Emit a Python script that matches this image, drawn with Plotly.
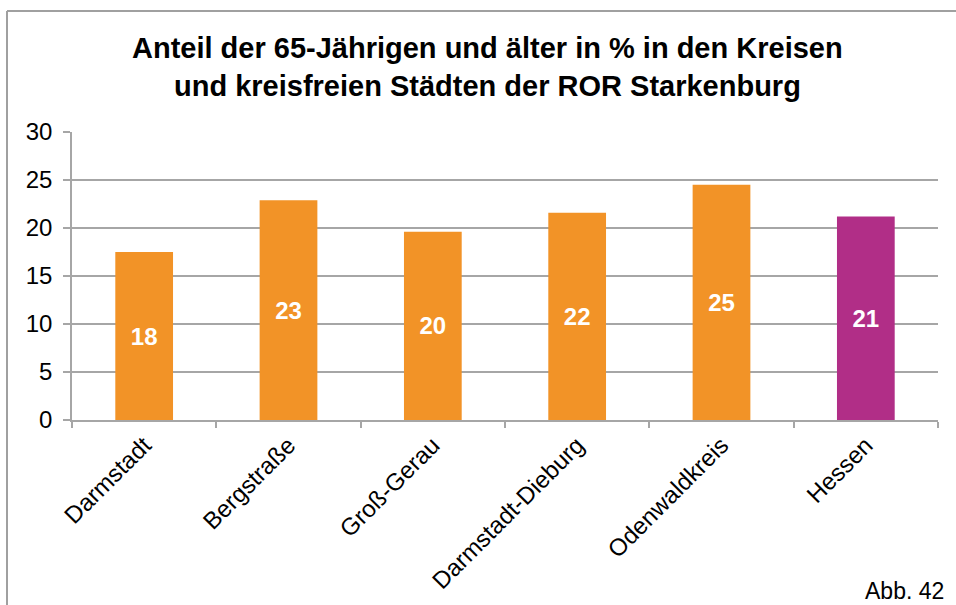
import plotly.graph_objects as go

# Anteil der 65-Jährigen und älter (%) je Kreis / kreisfreie Stadt
regions = ["Darmstadt", "Bergstraße", "Groß-Gerau", "Darmstadt-Dieburg", "Odenwaldkreis", "Hessen"]
shares = [17.5, 22.9, 19.6, 21.6, 24.5, 21.2]
bar_colors = ["#F29327", "#F29327", "#F29327", "#F29327", "#F29327", "#B12E87"]
y_ticks = [0, 5, 10, 15, 20, 25, 30]

FONT = "Liberation Sans, Arial, sans-serif"
GRID = "#A6A6A6"

W, H = 956, 605
ML, MR, MT, MB = 72, 18, 132, 185

fig = go.Figure(
    go.Bar(
        x=regions,
        y=shares,
        marker=dict(color=bar_colors, line=dict(width=0)),
        width=0.4,
        texttemplate="%{y:.0f}",
        textposition="inside",
        insidetextanchor="middle",
        textangle=0,
        textfont=dict(family=FONT, size=24, color="white", weight="bold"),
        hoverinfo="x+y",
    )
)

fig.update_layout(
    width=W,
    height=H,
    margin=dict(l=ML, r=MR, t=MT, b=MB, pad=0),
    paper_bgcolor="white",
    plot_bgcolor="white",
    showlegend=False,
    font=dict(family=FONT, color="black"),
)

fig.update_xaxes(
    type="category",
    tickangle=-45,
    tickfont=dict(family=FONT, size=24, color="black"),
    showgrid=False,
    showline=True,
    linecolor=GRID,
    linewidth=1.5,
    ticks="outside",
    tickson="boundaries",
    ticklen=6,
    tickcolor=GRID,
    tickwidth=1.5,
)

fig.update_yaxes(
    range=[0, 30],
    tickvals=y_ticks,
    tickfont=dict(family=FONT, size=24, color="black"),
    showgrid=True,
    gridcolor=GRID,
    gridwidth=1.5,
    zeroline=False,
    showline=True,
    linecolor=GRID,
    linewidth=1.5,
    ticks="outside",
    ticklen=7,
    tickcolor=GRID,
    tickwidth=1.5,
    ticklabelstandoff=6,
)

# chart frame (left and top edges, the rest runs off the page)
pw, ph = W - ML - MR, H - MT - MB
fx = lambda px: (px - ML) / pw
fy = lambda py: (H - MB - py) / ph
fig.add_shape(type="line", xref="paper", yref="paper",
              x0=fx(7), x1=fx(7), y0=fy(11), y1=fy(H + 5),
              line=dict(color="#A0A0A0", width=2))
fig.add_shape(type="line", xref="paper", yref="paper",
              x0=fx(7), x1=fx(W + 5), y0=fy(11), y1=fy(11),
              line=dict(color="#A0A0A0", width=2))

# title, two lines
title_lines = [
    "Anteil der 65-Jährigen und älter in % in den Kreisen",
    "und kreisfreien Städten der ROR Starkenburg",
]
for line, ypx in zip(title_lines, [48, 86]):
    fig.add_annotation(
        text=line, xref="paper", yref="paper",
        x=fx(487), y=fy(ypx), xanchor="center", yanchor="middle",
        showarrow=False,
        font=dict(family=FONT, size=29, color="black", weight="bold"),
    )

fig.add_annotation(
    text="Abb. 42", xref="paper", yref="paper",
    x=fx(946), y=fy(591), xanchor="right", yanchor="middle",
    showarrow=False,
    font=dict(family=FONT, size=23, color="black"),
)

fig.write_html("out.html")
